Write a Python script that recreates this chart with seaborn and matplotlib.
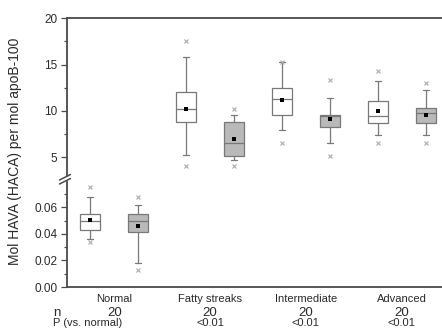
import numpy as np
import pandas as pd
import matplotlib
matplotlib.use("Agg")
import matplotlib.pyplot as plt
import matplotlib.transforms as mtransforms
from matplotlib.lines import Line2D
import seaborn as sns

# ---------------- data ----------------
groups = ["Normal", "Fatty streaks", "Intermediate", "Advanced"]
kinds = ["HAVA", "HACA"]
box_group = ["Normal", "Normal", "Fatty streaks", "Fatty streaks",
             "Intermediate", "Intermediate", "Advanced", "Advanced"]
box_kind = ["HAVA", "HACA"] * 4
whisker_low = [0.0359, 0.0178, 5.22, 4.68, 7.92, 6.55, 7.38, 7.38]
quart_low = [0.0431, 0.0411, 8.79, 5.15, 9.55, 8.22, 8.65, 8.71]
medians = [0.0496, 0.0496, 10.19, 6.55, 11.28, 9.44, 9.47, 9.73]
quart_high = [0.0547, 0.0547, 12.06, 8.82, 12.43, 9.51, 11.03, 10.27]
whisker_high = [0.0674, 0.0614, 15.85, 9.51, 15.24, 11.42, 13.22, 12.25]
means = [0.0504, 0.0461, 10.25, 6.95, 11.14, 9.08, 9.95, 9.58]
pct_low = [0.0336, 0.0130, 4.06, 4.06, 6.55, 5.15, 6.55, 6.55]
pct_high = [0.0754, 0.0674, 17.58, 10.23, 15.30, 13.33, 14.34, 13.04]
n_label = "n"
n_values = ["20", "20", "20", "20"]
p_label = "P (vs. normal)"
p_values = ["", "<0.01", "<0.01", "<0.01"]
y_label = "Mol HAVA (HACA) per mol apoB-100"
low_group = "Normal"

# ---------------- tables ----------------
box_rows = []
for g, k, a, b, c, d, e in zip(box_group, box_kind, whisker_low, quart_low,
                               medians, quart_high, whisker_high):
    for v in (a, b, c, d, e):
        box_rows.append({"group": g, "kind": k, "value": v})
box_df = pd.DataFrame(box_rows)
mean_df = pd.DataFrame({"group": box_group, "kind": box_kind, "value": means})
pl_df = pd.DataFrame({"group": box_group, "kind": box_kind, "value": pct_low})
ph_df = pd.DataFrame({"group": box_group, "kind": box_kind, "value": pct_high})

# ---------------- style ----------------
sns.set_style("ticks")
plt.rcParams["font.family"] = ["Liberation Sans", "DejaVu Sans"]
spine_c = "#4a4a4a"
text_c = "#2a2a2a"
line_c = "#787878"
fill_pal = {"HAVA": "white", "HACA": "#b9b9b9"}

W, H = 442, 329
fig = plt.figure(figsize=(W / 100, H / 100), dpi=100)
left_px, right_px = 66.5, 449.5
L = left_px / W
Wd = (right_px - left_px) / W
ax_top = fig.add_axes([L, 1 - 175.6 / H, Wd, (175.6 - 18.3) / H])
ax_bot = fig.add_axes([L, 1 - 287 / H, Wd, (287 - 182) / H])


def draw(ax, sel):
    bd = box_df[sel(box_df)]
    sns.boxplot(data=bd, x="group", y="value", hue="kind", order=groups,
                hue_order=kinds, palette=fill_pal, linecolor=line_c,
                linewidth=0.9, width=1.0, gap=0.58, whis=(0, 100),
                showfliers=False, dodge=True, legend=False, ax=ax)
    # narrower whisker caps, as in the reference
    for cont in ax.containers:
        for cap in getattr(cont, "caps", []):
            xs = np.asarray(cap.get_xdata(), dtype=float)
            mid = xs.mean()
            half = (xs.max() - xs.min()) / 2 * 0.6
            cap.set_xdata([mid - half, mid + half])
    for df, mk, ms, col in ((mean_df, "s", 3.2, "black"),
                            (pl_df, "x", 2.2, "#ababab"),
                            (ph_df, "x", 2.2, "#ababab")):
        d = df[sel(df)]
        sns.pointplot(data=d, x="group", y="value", hue="kind", order=groups,
                      hue_order=kinds, palette={k: col for k in kinds},
                      dodge=0.5, markers=mk, linestyle="none", errorbar=None,
                      markersize=ms, markeredgewidth=0.8 if mk == "x" else 0,
                      legend=False, zorder=5, ax=ax)
    ax.set_xlim(-0.5, 3.5)
    ax.set_xlabel("")
    ax.set_ylabel("")
    for s in ax.spines.values():
        s.set_color(spine_c)
        s.set_linewidth(1.3)
    ax.spines["right"].set_visible(False)
    ax.tick_params(axis="y", which="major", direction="out", length=4.5,
                   width=0.9, color=spine_c, labelsize=8.5, labelcolor=text_c,
                   pad=2)
    ax.tick_params(axis="y", which="minor", direction="out", length=2.2,
                   width=0.9, color=spine_c)


draw(ax_top, lambda d: d["group"] != low_group)
draw(ax_bot, lambda d: d["group"] == low_group)

# top panel
ax_top.set_ylim(3, 20)
ax_top.set_yticks([5, 10, 15, 20])
ax_top.set_yticks([7.5, 12.5, 17.5], minor=True)
ax_top.spines["bottom"].set_visible(False)
ax_top.tick_params(axis="x", which="both", bottom=False, labelbottom=False)

# bottom panel
ax_bot.set_ylim(0, 0.079)
ax_bot.set_yticks([0.0, 0.02, 0.04, 0.06])
ax_bot.set_yticklabels(["0.00", "0.02", "0.04", "0.06"])
ax_bot.set_yticks([0.01, 0.03, 0.05, 0.07], minor=True)
ax_bot.spines["top"].set_visible(False)
ax_bot.set_xticks(range(len(groups)))
ax_bot.set_xticklabels(groups)
ax_bot.tick_params(axis="x", which="both", length=0, labelsize=8,
                   labelcolor=text_c, pad=5)

# axis break marks
def px(x, y):
    return (x / W, 1 - y / H)

for y0 in (180.0, 184.0):
    x1, y1 = px(59.5, y0)
    x2, y2 = px(70.5, y0 - 5.5)
    fig.add_artist(Line2D([x1, x2], [y1, y2], transform=fig.transFigure,
                          color=spine_c, lw=1.1))

# y label
fig.text(15 / W, 1 - 151 / H, y_label, rotation=90, ha="center", va="center",
         fontsize=10, color=text_c)

# n and P rows
trans = mtransforms.blended_transform_factory(ax_bot.transData, fig.transFigure)
row_n, row_p = 312.5, 323.0
fig.text(57 / W, 1 - row_n / H, n_label, ha="center", va="center",
         fontsize=9.5, color=text_c)
fig.text(53 / W, 1 - row_p / H, p_label, ha="left", va="center",
         fontsize=8, color=text_c)
for i, (nv, pv) in enumerate(zip(n_values, p_values)):
    fig.text(i, 1 - row_n / H, nv, transform=trans, ha="center", va="center",
             fontsize=9.5, color=text_c)
    if pv:
        fig.text(i, 1 - row_p / H, pv, transform=trans, ha="center",
                 va="center", fontsize=8, color=text_c)

fig.savefig("out.png", dpi=100)
